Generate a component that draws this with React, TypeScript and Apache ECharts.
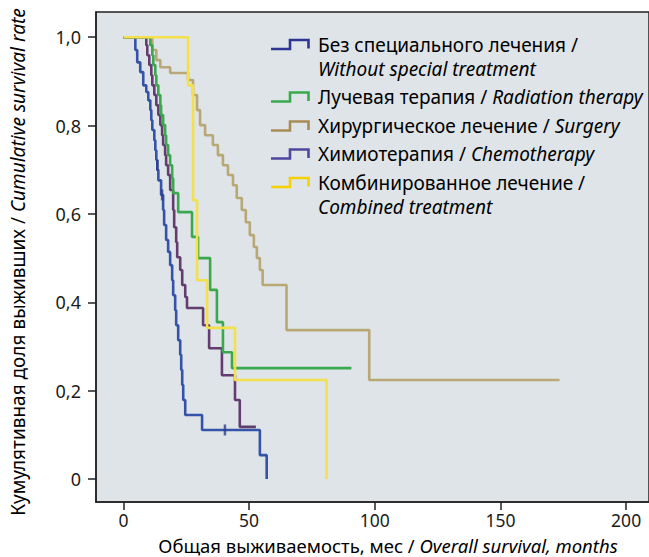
import React, { useEffect, useRef } from "react";
import * as echarts from "echarts";

// Kaplan–Meier curves: [months, cumulative survival] (value after each drop; last point = end of follow-up)
const withoutTreatment: number[][] = [
  [0, 1], [4.75, 0.971], [5.5, 0.943], [6.7, 0.921], [7.9, 0.891], [9.1, 0.876], [9.9, 0.857],
  [10.7, 0.835], [11.1, 0.812], [11.5, 0.79], [12.3, 0.767], [12.7, 0.744], [13.1, 0.722],
  [13.5, 0.7], [13.9, 0.676], [15.0, 0.643], [15.8, 0.609], [16.2, 0.575], [17.0, 0.541],
  [17.8, 0.514], [18.6, 0.484], [19.4, 0.45], [19.8, 0.416], [20.6, 0.382], [21.0, 0.348],
  [21.8, 0.314], [22.6, 0.281], [23.0, 0.247], [23.4, 0.213], [23.8, 0.179], [24.6, 0.145],
  [31.3, 0.111], [54.3, 0.054], [57.0, 0.0],
];
const withoutTreatmentCensored: number[][] = [[13.5, 0.71], [15.4, 0.643], [40.4, 0.111]];

const radiation: number[][] = [
  [0, 1], [10.7, 0.982], [11.5, 0.959], [11.9, 0.937], [12.7, 0.914], [13.1, 0.891], [13.9, 0.869],
  [14.7, 0.846], [15.0, 0.824], [15.8, 0.801], [16.6, 0.778], [17.0, 0.756], [17.8, 0.733],
  [18.6, 0.71], [19.4, 0.681], [19.8, 0.647], [21.8, 0.604], [27.3, 0.548], [29.7, 0.5],
  [34.5, 0.428], [37.2, 0.355], [39.6, 0.287], [43.2, 0.251], [90.7, 0.251],
];

const surgery: number[][] = [
  [0, 1], [11.5, 0.971], [13.1, 0.948], [14.7, 0.932], [18.6, 0.919], [25.7, 0.903], [27.7, 0.869],
  [29.3, 0.835], [30.5, 0.801], [32.5, 0.778], [35.6, 0.756], [37.6, 0.733], [39.6, 0.71],
  [41.6, 0.688], [43.6, 0.665], [45.1, 0.636], [47.1, 0.609], [48.7, 0.581], [50.3, 0.552],
  [51.9, 0.525], [53.1, 0.5], [54.3, 0.473], [55.4, 0.439], [64.9, 0.337], [97.8, 0.224],
  [173.5, 0.224],
];

const chemotherapy: number[][] = [
  [0, 1], [9.1, 0.982], [9.5, 0.959], [10.3, 0.937], [11.1, 0.914], [11.5, 0.891], [12.3, 0.869],
  [13.1, 0.846], [13.9, 0.824], [14.7, 0.801], [15.4, 0.778], [15.8, 0.756], [16.6, 0.733],
  [17.0, 0.71], [17.8, 0.688], [18.6, 0.654], [19.8, 0.609], [20.2, 0.57], [21.0, 0.536],
  [21.4, 0.502], [22.6, 0.473], [23.4, 0.439], [24.6, 0.412], [25.3, 0.387], [31.7, 0.348],
  [34.1, 0.296], [39.2, 0.235], [44.4, 0.179], [46.3, 0.118], [52.7, 0.118],
];

const combined: number[][] = [
  [0, 1], [25.7, 0.891], [27.7, 0.631], [29.3, 0.45], [33.3, 0.342], [44.4, 0.224], [80.8, 0.0],
];

const xTicks = [0, 50, 100, 150, 200];
const yTicks = [0, 0.2, 0.4, 0.6, 0.8, 1.0];

const legendRu = [
  "Без специального лечения / ",
  "Лучевая терапия / ",
  "Хирургическое лечение / ",
  "Химиотерапия / ",
  "Комбинированное лечение / ",
];
const legendEn = [
  "Without special treatment",
  "Radiation therapy",
  "Surgery",
  "Chemotherapy",
  "Combined treatment",
];

const curveColors = ["#3553a8", "#3aa84c", "#b9a776", "#633d70", "#f3e04a"];
const iconColors = ["#2f3592", "#3aa84c", "#a88c55", "#4d479e", "#f7d000"];

const FONT = "'Noto Sans', 'Open Sans', sans-serif";
const BLACK = "#1b1b1b";
const GRAY = "#7d7f82";

export default function App() {
  const ref = useRef<HTMLDivElement>(null);
  useEffect(() => {
    if (!ref.current) return;
    const chart = echarts.init(ref.current, null, { renderer: "svg" });

    const stepSeries = (name: string, data: number[][], color: string, z: number) => ({
      name,
      type: "line",
      step: "end",
      data,
      showSymbol: false,
      symbol: "none",
      z,
      lineStyle: { color, width: 2.6 },
    });

    const rich = {
      a: { fontFamily: FONT, fontSize: 19, color: BLACK, lineHeight: 19 },
      b: { fontFamily: FONT, fontSize: 19, color: GRAY, fontStyle: "italic", lineHeight: 19 },
    };
    const richTitle = {
      a: { fontFamily: FONT, fontSize: 18.5, color: BLACK, lineHeight: 18 },
      b: { fontFamily: FONT, fontSize: 18.5, color: GRAY, fontStyle: "italic", lineHeight: 18 },
    };

    // legend graphics
    const legendRows = [
      { y: 44.5, two: true },
      { y: 97, two: false },
      { y: 126, two: false },
      { y: 154, two: false },
      { y: 182.5, two: true },
    ];
    const legendGraphics: any[] = [];
    legendRows.forEach((r, i) => {
      const bottom = r.y + 4.5;
      const top = r.y - 4.5;
      legendGraphics.push({
        type: "polyline",
        shape: { points: [[271, bottom], [290, bottom], [290, top], [308.5, top], [308.5, bottom - 0.5]] },
        style: { stroke: iconColors[i], lineWidth: 2.6, fill: null },
      });
      if (r.two) {
        legendGraphics.push({
          type: "text", x: 318, y: r.y,
          style: { text: "{a|" + legendRu[i] + "}", rich, verticalAlign: "middle", align: "left" },
        });
        legendGraphics.push({
          type: "text", x: 318, y: r.y + 24.5,
          style: { text: "{b|" + legendEn[i] + "}", rich, verticalAlign: "middle", align: "left" },
        });
      } else {
        legendGraphics.push({
          type: "text", x: 318, y: r.y,
          style: { text: "{a|" + legendRu[i] + "}{b|" + legendEn[i] + "}", rich, verticalAlign: "middle", align: "left" },
        });
      }
    });

    chart.setOption({
      animation: false,
      backgroundColor: "#ffffff",
      grid: {
        left: 96, right: -2, top: 12, bottom: 55,
        show: true, backgroundColor: "#dee4e8", borderColor: "#222", borderWidth: 1.5,
      },
      xAxis: {
        type: "value",
        min: -10.9,
        max: 209.1,
        splitLine: { show: false },
        axisLine: { show: true, onZero: false, lineStyle: { color: "#222", width: 1.5 } },
        axisTick: { show: true, inside: false, length: 8, lineStyle: { color: "#222", width: 1.5 }, customValues: xTicks },
        axisLabel: {
          customValues: xTicks, color: BLACK, fontFamily: FONT, fontSize: 17.5, lineHeight: 17,
          margin: 9, formatter: (v: number) => String(v),
        },
      },
      yAxis: {
        type: "value",
        min: -0.052,
        max: 1.057,
        splitLine: { show: false },
        axisLine: { show: true, onZero: false, lineStyle: { color: "#222", width: 1.5 } },
        axisTick: { show: true, inside: false, length: 8, lineStyle: { color: "#222", width: 1.5 }, customValues: yTicks },
        axisLabel: {
          customValues: yTicks, color: BLACK, fontFamily: FONT, fontSize: 18, lineHeight: 18, margin: 15,
          formatter: (v: number) => (Math.abs(v) < 1e-9 ? "0" : v.toFixed(1).replace(".", ",")),
        },
      },
      series: [
        stepSeries("surgery", surgery, curveColors[2], 2),
        stepSeries("without", withoutTreatment, curveColors[0], 3),
        stepSeries("chemo", chemotherapy, curveColors[3], 4),
        stepSeries("radiation", radiation, curveColors[1], 5),
        stepSeries("combined", combined, curveColors[4], 6),
        {
          type: "scatter",
          data: withoutTreatmentCensored,
          symbol: "rect",
          symbolSize: [2.5, 11],
          itemStyle: { color: "#2f3d8c" },
          z: 7,
        },
      ],
      graphic: [
        {
          type: "text", x: 18, y: 262, rotation: Math.PI / 2,
          style: {
            text: "{a|Кумулятивная доля выживших / }{b|Cumulative survival rate}",
            rich, align: "center", verticalAlign: "middle",
          },
        },
        {
          type: "text", x: 388, y: 545,
          style: {
            text: "{a|Общая выживаемость, мес / }{b|Overall survival, months}",
            rich: richTitle, align: "center", verticalAlign: "middle",
          },
        },
        ...legendGraphics,
      ],
    });
    return () => chart.dispose();
  }, []);
  return <div ref={ref} style={{ width: 649, height: 557, position: "absolute", left: 0, top: 0 }} />;
}
